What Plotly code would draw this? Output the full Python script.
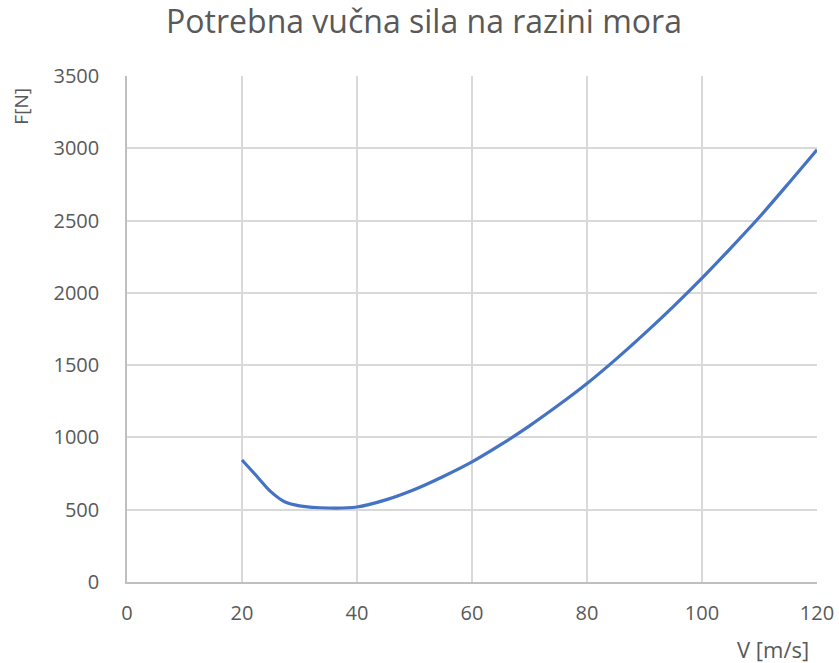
import plotly.graph_objects as go

v = [20, 22.5, 25, 27.5, 30, 35, 40, 45, 50, 55, 60, 65, 70, 75, 80, 85, 90, 95, 100, 105, 110, 115, 120]
F = [844, 735, 625, 553, 527, 512, 519, 568, 640, 730, 831, 950, 1080, 1222, 1373, 1540, 1718, 1905, 2102, 2310, 2525, 2755, 2990]

x_ticks = [0, 20, 40, 60, 80, 100, 120]
y_ticks = [0, 500, 1000, 1500, 2000, 2500, 3000, 3500]

font = "Open Sans"
grey = "#595959"

fig = go.Figure()
fig.add_trace(go.Scatter(x=v, y=F, mode="lines",
                         line=dict(color="#4472c4", width=3.2, shape="spline", smoothing=0.8),
                         showlegend=False, hoverinfo="x+y"))

fig.update_layout(
    width=839, height=663, autosize=False,
    margin=dict(l=127, r=22, t=76, b=81),
    paper_bgcolor="white", plot_bgcolor="white",
    title=dict(text="Potrebna vučna sila na razini mora", xref="container", x=0.5054, xanchor="center",
               yref="container", y=0.967, yanchor="middle",
               font=dict(family=font, size=32, color=grey)),
    xaxis=dict(range=[0, 120], tickvals=x_ticks, showgrid=True, gridcolor="#d9d9d9", gridwidth=1.5,
               zeroline=False, showline=True, linecolor="#bfbfbf", linewidth=1.5, automargin=False,
               ticks="", tickfont=dict(family=font, size=20, color=grey), ticklabelstandoff=12,
               ticklabeloverflow="allow"),
    yaxis=dict(range=[0, 3500], tickvals=y_ticks, showgrid=True, gridcolor="#d9d9d9", gridwidth=1.5,
               zeroline=False, showline=True, linecolor="#bfbfbf", linewidth=1.5, automargin=False,
               ticks="", tickfont=dict(family=font, size=20, color=grey), ticklabelstandoff=22),
    annotations=[
        dict(text="F[N]", textangle=-90, xref="paper", yref="paper",
             x=-0.1536, y=0.98, xanchor="center", yanchor="top", showarrow=False,
             font=dict(family=font, size=19, color=grey)),
        dict(text="V [m/s]", xref="paper", yref="paper",
             x=0.992, y=-0.133, xanchor="right", yanchor="middle", showarrow=False,
             font=dict(family=font, size=22, color=grey)),
    ],
)

fig.write_html("out.html",
               config={"responsive": False, "displayModeBar": False},
               post_script="document.body.style.margin='0';document.body.style.overflow='hidden';")
